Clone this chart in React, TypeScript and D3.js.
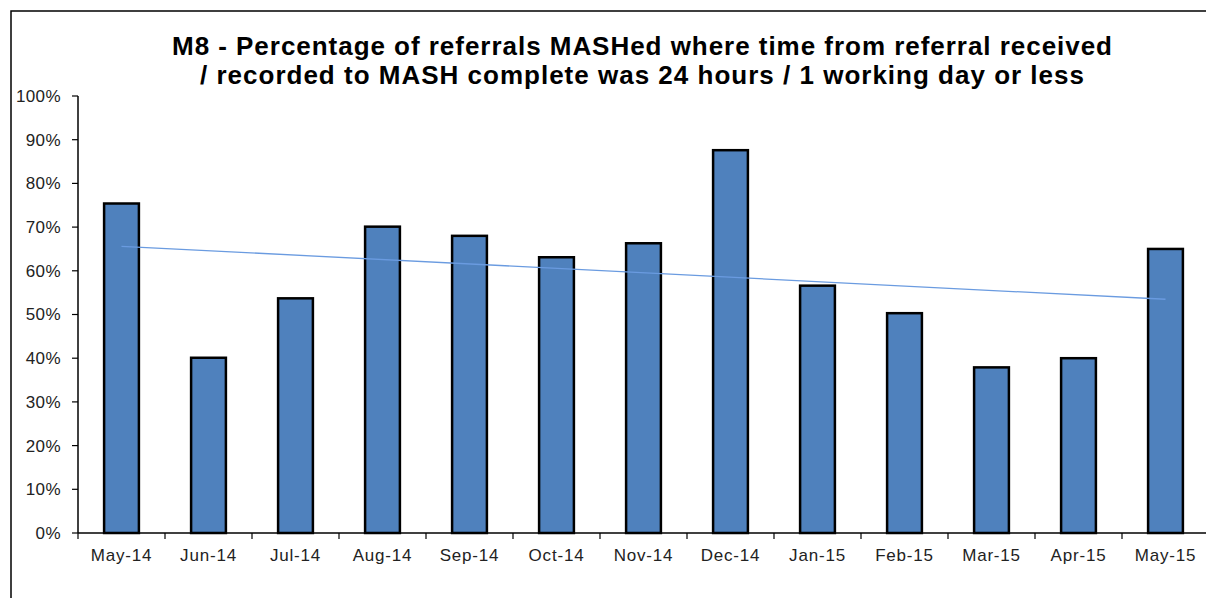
import React from "react";
import * as d3 from "d3";

// Months shown on the x axis
const months = [
  "May-14", "Jun-14", "Jul-14", "Aug-14", "Sep-14", "Oct-14", "Nov-14",
  "Dec-14", "Jan-15", "Feb-15", "Mar-15", "Apr-15", "May-15",
];

// Percentage MASHed within 24 hours
const percentMashed = [
  75.4, 40.1, 53.7, 70.1, 68.0, 63.1, 66.3, 87.6, 56.6, 50.3, 37.9, 40.0, 65.0,
];

const yTicks = [0, 10, 20, 30, 40, 50, 60, 70, 80, 90, 100];

const titleLines = [
  "M8 - Percentage of referrals MASHed where time from referral received",
  "/ recorded to MASH complete was 24 hours / 1 working day or less",
];

const App = () => {
  const width = 1206;
  const height = 598;
  const plot = { left: 78, top: 96, bottom: 533, step: 87 };

  const x = d3
    .scaleBand<string>()
    .domain(months)
    .range([plot.left, plot.left + plot.step * months.length])
    .paddingInner(0.6)
    .paddingOuter(0.3);

  const y = d3.scaleLinear().domain([0, 100]).range([plot.bottom, plot.top]);
  const cx = (m: string) => (x(m) as number) + x.bandwidth() / 2;

  // Linear trend line, like Excel's least squares trendline
  const idx = percentMashed.map((_, i) => i);
  const meanX = d3.mean(idx) as number;
  const meanY = d3.mean(percentMashed) as number;
  const slope =
    d3.sum(idx, (i) => (i - meanX) * (percentMashed[i] - meanY)) /
    d3.sum(idx, (i) => (i - meanX) ** 2);
  const ends = [0, months.length - 1];
  const trendPath = d3
    .line<number>()
    .x((i) => cx(months[i]))
    .y((i) => y(meanY + slope * (i - meanX)))(ends);

  const font = "'Liberation Sans', Arial, sans-serif";

  return (
    <svg
      width={width}
      height={height}
      style={{ position: "absolute", left: 0, top: 0, background: "#fff" }}
      fontFamily={font}
    >
      <rect x={11} y={11} width={1300} height={700} fill="none" stroke="#000" strokeWidth={1.5} />

      {/* title */}
      <text x={642} y={55} textAnchor="middle" fontSize={26} fontWeight="bold" fill="#000"
        textLength={940} lengthAdjust="spacing">
        {titleLines[0]}
      </text>
      <text x={642} y={84} textAnchor="middle" fontSize={26} fontWeight="bold" fill="#000"
        textLength={884} lengthAdjust="spacing">
        {titleLines[1]}
      </text>

      {/* y axis */}
      <line x1={plot.left} x2={plot.left} y1={plot.top} y2={plot.bottom} stroke="#000" strokeWidth={1.5} />
      {yTicks.map((t) => (
        <g key={t}>
          <line x1={plot.left - 6} x2={plot.left} y1={y(t)} y2={y(t)} stroke="#000" strokeWidth={1.2} />
          <text x={61} y={y(t)} dy="0.35em" textAnchor="end" fontSize={17} letterSpacing={0.4} fill="#222">
            {t}%
          </text>
        </g>
      ))}

      {/* bars */}
      {percentMashed.map((v, i) => (
        <rect
          key={months[i]}
          x={x(months[i])}
          y={y(v)}
          width={x.bandwidth()}
          height={plot.bottom - y(v)}
          fill="#4f81bd"
          stroke="#000"
          strokeWidth={2.5}
        />
      ))}

      {/* trend line */}
      <path d={trendPath ?? ""} fill="none" stroke="#6a9be0" strokeWidth={1.3} />

      {/* x axis */}
      <line x1={plot.left} x2={plot.left + plot.step * months.length} y1={plot.bottom} y2={plot.bottom}
        stroke="#000" strokeWidth={1.5} />
      {months.map((m, i) => (
        <g key={m}>
          <line
            x1={plot.left + plot.step * i}
            x2={plot.left + plot.step * i}
            y1={plot.bottom}
            y2={plot.bottom + 6}
            stroke="#000"
            strokeWidth={1.2}
          />
          <text x={cx(m)} y={561} textAnchor="middle" fontSize={17} letterSpacing={0.8} fill="#222">
            {m}
          </text>
        </g>
      ))}
    </svg>
  );
};

export default App;
